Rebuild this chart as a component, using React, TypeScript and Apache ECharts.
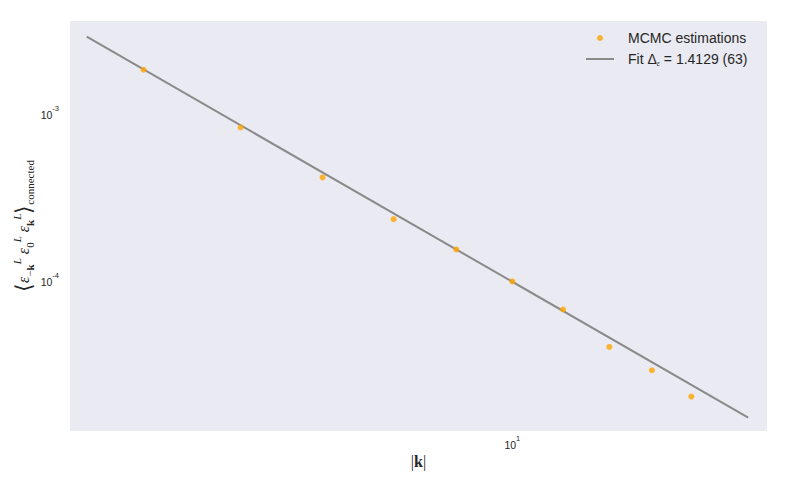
import React, { useEffect, useRef } from "react";
import * as echarts from "echarts";

// |k| values of the MCMC estimations
const kValues = [5, 6, 7, 8, 9, 10, 11, 12, 13, 14];
// three-point function estimates
const corrValues = [
  1.788e-3, 8.1e-4, 4.074e-4, 2.297e-4, 1.515e-4, 9.76e-5, 6.64e-5, 3.97e-5,
  2.882e-5, 2.008e-5,
];
// fitted power law, end points
const fitK = [4.493, 15.58];
const fitValues = [2.816e-3, 1.504e-5];
// tick labels
const xTicks = [10];
const yTicks = [1e-4, 1e-3];

const seriesNames = ["MCMC estimations", "Fit Δ_ε = 1.4129 (63)"];

export default function App() {
  const ref = useRef<HTMLDivElement>(null);
  useEffect(() => {
    document.body.style.margin = "0";
    const chart = echarts.init(ref.current!, null, { renderer: "svg" });
    const expLabel = (v: number) => {
      const e = Math.round(Math.log10(v));
      return "{n|10}{s|" + (e < 0 ? "-" + -e : String(e)) + "}";
    };
    const tickRich = {
      n: { fontSize: 10.5, color: "#262626", fontFamily: "Liberation Sans", lineHeight: 16, verticalAlign: "bottom" },
      s: { fontSize: 7.5, color: "#262626", fontFamily: "Liberation Sans", lineHeight: 16, verticalAlign: "top" },
    };
    chart.setOption({
      animation: false,
      backgroundColor: "#ffffff",
      grid: {
        left: 70,
        top: 21,
        right: 22,
        bottom: 57,
        show: true,
        backgroundColor: "#EAEAF2",
        borderWidth: 0,
        containLabel: false,
        outerBoundsMode: "none",
      },
      legend: {
        orient: "vertical",
        left: 580,
        top: 25,
        itemWidth: 28,
        itemHeight: 6,
        itemGap: 5,
        data: [
          { name: seriesNames[0], icon: "circle" },
          { name: seriesNames[1], itemStyle: { opacity: 0 } },
        ],
        formatter: (name: string) =>
          name === seriesNames[1]
            ? "Fit Δ{sub|ε} = 1.4129 (63)"
            : name,
        textStyle: {
          fontFamily: "Liberation Sans",
          fontSize: 14,
          lineHeight: 16,
          color: "#262626",
          padding: [0, 0, 0, 9],
          rich: {
            sub: {
              fontFamily: "Liberation Serif",
              fontStyle: "italic",
              fontSize: 8,
              lineHeight: 16,
              verticalAlign: "bottom",
              color: "#262626",
            },
          },
        },
      },
      xAxis: {
        type: "log",
        logBase: 10,
        min: 4.354,
        max: 16.14,
        axisLine: { show: false },
        axisTick: { show: false },
        splitLine: { show: false },
        minorSplitLine: { show: false },
        axisLabel: {
          customValues: xTicks,
          formatter: expLabel,
          margin: 3,
          rich: tickRich,
        },
        name: "|{b|k}|",
        nameLocation: "middle",
        nameGap: 22,
        nameMoveOverlap: false,
        nameTextStyle: {
          fontFamily: "Liberation Serif",
          fontSize: 16,
          color: "#262626",
          rich: {
            b: { fontFamily: "Liberation Serif", fontWeight: "bold", fontSize: 16, color: "#262626" },
          },
        },
      },
      yAxis: {
        type: "log",
        logBase: 10,
        min: 1.251e-5,
        max: 3.494e-3,
        axisLine: { show: false },
        axisTick: { show: false },
        splitLine: { show: false },
        axisLabel: {
          customValues: yTicks,
          formatter: expLabel,
          margin: 11,
          rich: tickRich,
        },
        name:
          "{t|⟨}{e|ε}{sb|−}{bb|k}{sp|L}{e| ε}{sb|0}{sp|L}{e| ε}{bb|k}{sp|L}{t|⟩}{c|connected}",
        nameLocation: "middle",
        nameRotate: 90,
        nameGap: 35,
        nameMoveOverlap: false,
        nameTextStyle: {
          fontFamily: "Liberation Serif",
          fontSize: 16,
          color: "#262626",
          rich: {
            t: { fontFamily: "Liberation Serif", fontSize: 22, lineHeight: 24, color: "#262626" },
            e: { fontFamily: "Liberation Serif", fontStyle: "italic", fontSize: 16, lineHeight: 24, color: "#262626" },
            sb: { fontFamily: "Liberation Serif", fontSize: 11, lineHeight: 24, verticalAlign: "bottom", color: "#262626" },
            bb: { fontFamily: "Liberation Serif", fontWeight: "bold", fontSize: 11, lineHeight: 24, verticalAlign: "bottom", color: "#262626" },
            sp: { fontFamily: "Liberation Serif", fontStyle: "italic", fontSize: 11, lineHeight: 24, verticalAlign: "top", color: "#262626" },
            c: { fontFamily: "Liberation Serif", fontSize: 11, lineHeight: 24, verticalAlign: "bottom", color: "#262626" },
          },
        },
      },
      series: [
        {
          name: seriesNames[0],
          type: "scatter",
          symbol: "circle",
          symbolSize: 6,
          itemStyle: { color: "#FFA500" },
          data: kValues.map((k, i) => [k, corrValues[i]]),
          z: 3,
        },
        {
          name: seriesNames[1],
          type: "line",
          symbol: "none",
          lineStyle: { color: "#8a8a8a", width: 2 },
          itemStyle: { color: "#8a8a8a" },
          data: fitK.map((k, i) => [k, fitValues[i]]),
          z: 2,
        },
      ],
    });
    return () => chart.dispose();
  }, []);
  return (
    <div
      ref={ref}
      style={{ position: "absolute", left: 0, top: 0, width: 789, height: 488 }}
    />
  );
}
